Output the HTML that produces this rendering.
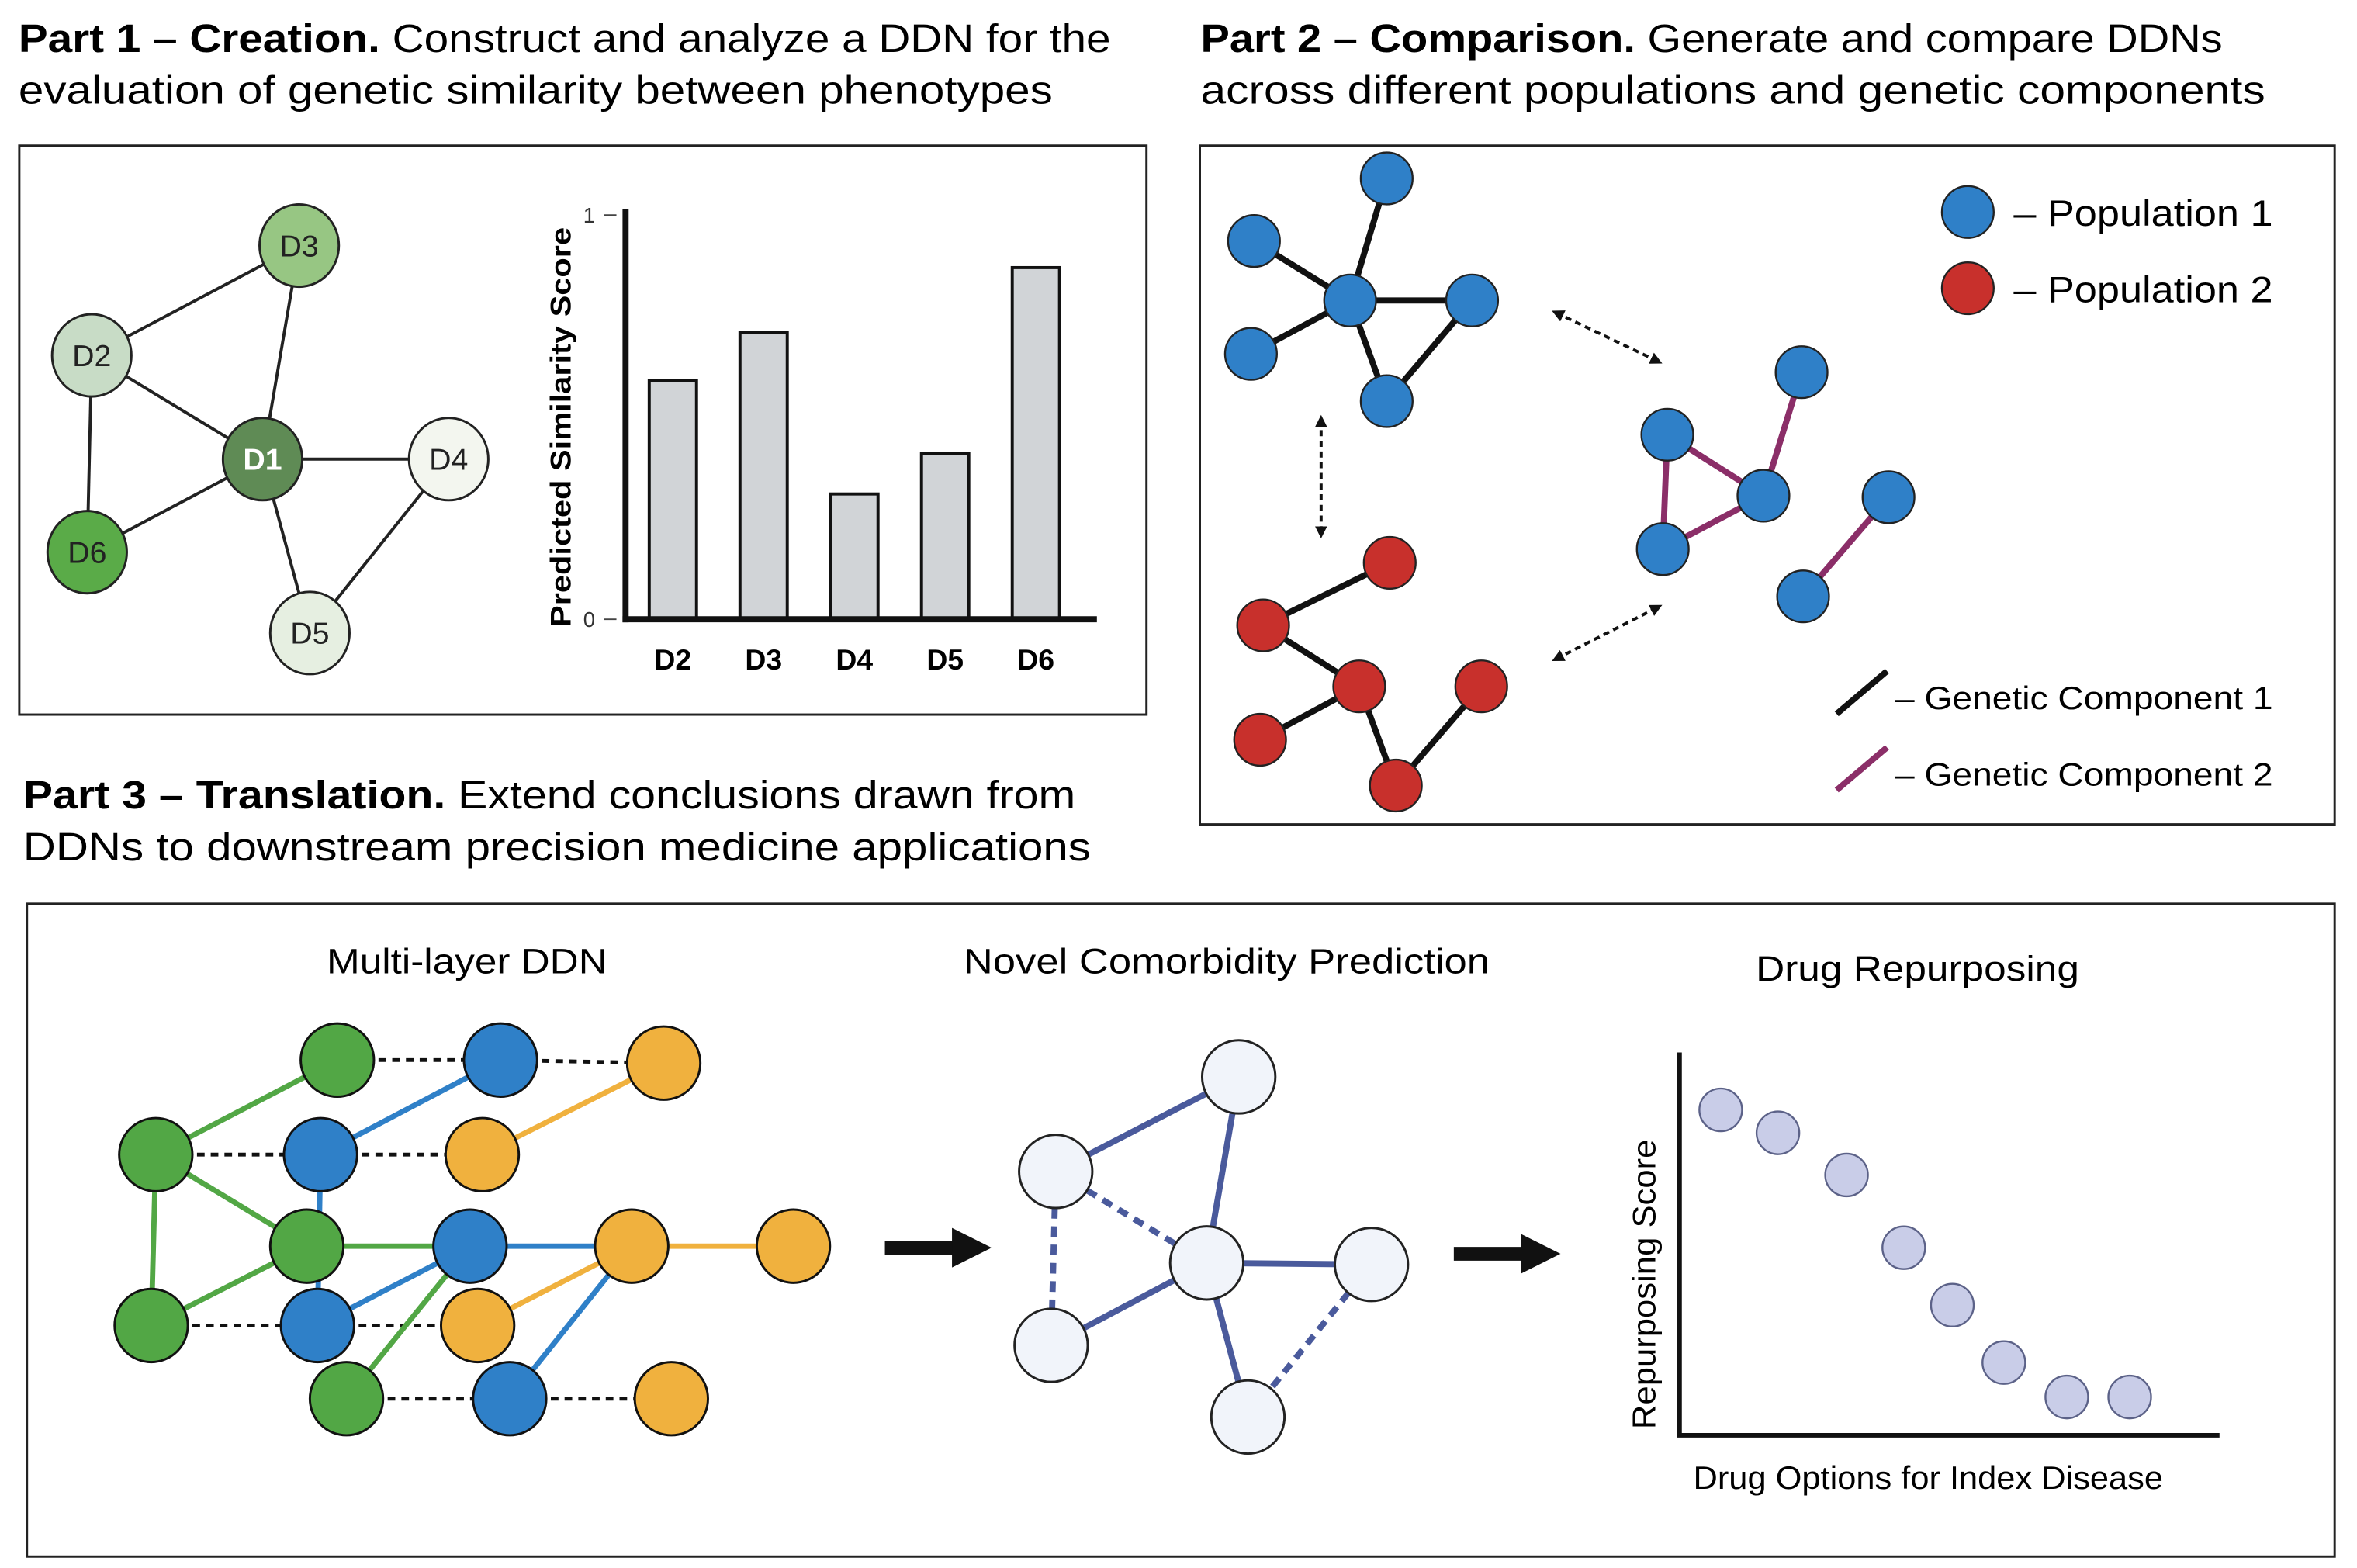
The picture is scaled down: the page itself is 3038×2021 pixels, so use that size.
<!DOCTYPE html>
<html><head><meta charset="utf-8"><style>
html,body{margin:0;padding:0;background:#fff;}
svg{display:block;font-family:"Liberation Sans",sans-serif;}
</style></head><body>
<svg id="fig" width="3038" height="2021" viewBox="0 0 1545 1028" xmlns="http://www.w3.org/2000/svg">
<defs>
<marker id="ah" markerWidth="8" markerHeight="8" refX="5" refY="4" orient="auto-start-reverse" markerUnits="userSpaceOnUse"><path d="M0,0 L8,4 L0,8 z" fill="#111"/></marker>
<marker id="bh" markerWidth="26" markerHeight="26" refX="4" refY="13" orient="auto" markerUnits="userSpaceOnUse"><path d="M0,0 L26,13 L0,26 z" fill="#111"/></marker>
</defs>
<!-- titles -->
<text x="12" y="34" font-size="26" textLength="716" lengthAdjust="spacingAndGlyphs"><tspan font-weight="bold">Part 1 – Creation.</tspan> Construct and analyze a DDN for the</text>
<text x="12" y="68" font-size="26" textLength="678" lengthAdjust="spacingAndGlyphs">evaluation of genetic similarity between phenotypes</text>
<text x="787" y="34" font-size="26" textLength="670" lengthAdjust="spacingAndGlyphs"><tspan font-weight="bold">Part 2 – Comparison.</tspan> Generate and compare DDNs</text>
<text x="787" y="68" font-size="26" textLength="698" lengthAdjust="spacingAndGlyphs">across different populations and genetic components</text>
<text x="15" y="530" font-size="26" textLength="690" lengthAdjust="spacingAndGlyphs"><tspan font-weight="bold">Part 3 – Translation.</tspan> Extend conclusions drawn from</text>
<text x="15" y="564" font-size="26" textLength="700" lengthAdjust="spacingAndGlyphs">DDNs to downstream precision medicine applications</text>
<!-- boxes -->
<rect x="12.5" y="95.5" width="739" height="373" fill="none" stroke="#222" stroke-width="1.5"/>
<rect x="786.5" y="95.5" width="744" height="445" fill="none" stroke="#222" stroke-width="1.5"/>
<rect x="17.5" y="592.5" width="1513" height="428" fill="none" stroke="#222" stroke-width="1.5"/>
<g id="g1"></g><g id="g2"></g><g id="g3"></g>
</svg>
<script>
// ---- Part 1 bar chart data
const barCats=["D2","D3","D4","D5","D6"];
const barVals=[0.59,0.71,0.31,0.41,0.87];
const yTicks=[0,1];
// ---- scatter data (Drug repurposing)
const drugIdx=[1,2,3.2,4.2,5.05,5.95,7.05,8.15];
const repScore=[0.85,0.79,0.68,0.49,0.34,0.19,0.10,0.10];

const NS="http://www.w3.org/2000/svg";
function mk(parent,tag,attrs,txt){const e=document.createElementNS(NS,tag);for(const k in attrs)e.setAttribute(k,attrs[k]);if(txt!==undefined)e.textContent=txt;parent.appendChild(e);return e;}
const g1=document.getElementById('g1'),g2=document.getElementById('g2'),g3=document.getElementById('g3');

// Part1 network
const p1n={D1:[172,301,'#5f8b55','#fff'],D2:[60,233,'#c8dcc6','#222'],D3:[196,161,'#97c683','#222'],D4:[294,301,'#f3f6ef','#222'],D5:[203,415,'#e6efe1','#222'],D6:[57,362,'#5aab48','#222']};
[['D2','D3'],['D3','D1'],['D2','D1'],['D2','D6'],['D6','D1'],['D1','D4'],['D1','D5'],['D4','D5']].forEach(([a,b])=>{
 const l=mk(g1,'line',{x1:p1n[a][0],y1:p1n[a][1],x2:p1n[b][0],y2:p1n[b][1],stroke:'#222','stroke-width':2});
 
 
});
for(const k in p1n){const [x,y,f,t]=p1n[k];
 const c=mk(g1,'ellipse',{cx:x,cy:y,rx:26,ry:27,fill:f,stroke:'#222','stroke-width':1.5});
 
 
 const tx=mk(g1,'text',{x:x,y:y+7,'text-anchor':'middle','font-size':20,fill:t,'font-weight':k==='D1'?'bold':'normal'},k);
 
 
}
// bar chart axes
const y0=406,y1=141;
function ys(v){return y0-(y0-y1)*v;}
function xs(i){return 441+i*59.5;}
const ya=mk(g1,'line',{x1:410,y1:137,x2:410,y2:408,stroke:'#111','stroke-width':4});


yTicks.forEach(t=>{
 const tl=mk(g1,'line',{x1:396,y1:ys(t),x2:404,y2:ys(t),stroke:'#444','stroke-width':1});
 
 
 const tt=mk(g1,'text',{x:390,y:ys(t)+5,'text-anchor':'end','font-size':14,fill:'#333'},String(t));
 
 
});
barCats.forEach((c,i)=>{
 const r=mk(g1,'rect',{x:xs(i)-15.5,y:ys(barVals[i]),width:31,height:y0-ys(barVals[i]),fill:'#d1d4d7',stroke:'#111','stroke-width':2});
 
 
 const t=mk(g1,'text',{x:xs(i),y:439,'text-anchor':'middle','font-size':19,'font-weight':'bold'},c);
 
 
});
const xa=mk(g1,'line',{x1:408,y1:406,x2:719,y2:406,stroke:'#111','stroke-width':4});


const ytl=mk(g1,'text',{x:0,y:0,transform:'translate(374,280) rotate(-90)','text-anchor':'middle','font-size':19,'font-weight':'bold',textLength:262,lengthAdjust:'spacingAndGlyphs'},'Predicted Similarity Score');



// Part2
const BL='#2f80c8',RD='#c8302c',PU='#8b2e68';
function net(nodes,edges,ecol,ncol,name){
 edges.forEach(([a,b])=>{const l=mk(g2,'line',{x1:nodes[a][0],y1:nodes[a][1],x2:nodes[b][0],y2:nodes[b][1],stroke:ecol,'stroke-width':4});
  
  });
 nodes.forEach(n=>{const c=mk(g2,'circle',{cx:n[0],cy:n[1],r:17,fill:ncol,stroke:'#222','stroke-width':1.2});
  
  });
}
net([[822,158],[909,117],[885,197],[965,197],[820,232],[909,263]],[[0,2],[1,2],[2,3],[4,2],[2,5],[5,3]],'#111',BL,'pop1');
net([[911,369],[828,410],[891,450],[971,450],[826,485],[915,515]],[[0,1],[1,2],[2,4],[2,5],[5,3]],'#111',RD,'pop2');
net([[1093,285],[1181,244],[1156,325],[1090,360],[1238,326],[1182,391]],[[0,2],[0,3],[3,2],[2,1],[4,5]],PU,BL,'component2');
[[1020,205,1087,237],[866,275,866,350],[1020,432,1087,398]].forEach(a=>{
 const l=mk(g2,'line',{x1:a[0],y1:a[1],x2:a[2],y2:a[3],stroke:'#111','stroke-width':2,'stroke-dasharray':'4,3','marker-start':'url(#ah)','marker-end':'url(#ah)'});
 
 
});
[[139,BL,'– Population 1'],[189,RD,'– Population 2']].forEach(([y,c,t])=>{
 const ci=mk(g2,'circle',{cx:1290,cy:y,r:17,fill:c,stroke:'#222','stroke-width':1.2});
 
 
 const tx=mk(g2,'text',{x:1320,y:y+9,'font-size':24,textLength:170,lengthAdjust:'spacingAndGlyphs'},t);
 
 
});
[[468,'#111','– Genetic Component 1'],[518,PU,'– Genetic Component 2']].forEach(([y,c,t])=>{
 const l=mk(g2,'line',{x1:1204,y1:y,x2:1237,y2:y-28,stroke:c,'stroke-width':4});
 
 
 const tx=mk(g2,'text',{x:1242,y:y-3,'font-size':21,textLength:248,lengthAdjust:'spacingAndGlyphs'},t);
 
 
});

// Part3 titles
[[306,638,'Multi-layer DDN',184],[804,638,'Novel Comorbidity Prediction',345],[1257,643,'Drug Repurposing',212]].forEach(([x,y,t,w])=>{
 const tx=mk(g3,'text',{x:x,y:y,'text-anchor':'middle','font-size':23,textLength:w,lengthAdjust:'spacingAndGlyphs'},t);
 
 
});
// multi-layer
const G=[[221,695],[102,757],[201,817],[99,869],[227,917]];
const B=[[328,695],[210,757],[308,817],[208,869],[334,917]];
const O=[[435,697],[316,757],[414,817],[313,869],[440,917],[520,817]];
const dash=[[G[0],B[0]],[B[0],O[0]],[G[1],B[1]],[B[1],O[1]],[G[2],B[2]],[B[2],O[2]],[O[2],O[5]],[G[3],B[3]],[B[3],O[3]],[G[4],B[4]],[B[4],O[4]]];
dash.forEach(([a,b])=>{const l=mk(g3,'line',{x1:a[0],y1:a[1],x2:b[0],y2:b[1],stroke:'#111','stroke-width':2.5,'stroke-dasharray':'5,4'});
 
 });
const solid=[['#52a745',G[1],G[0]],['#52a745',G[1],G[3]],['#52a745',G[1],G[2]],['#52a745',G[3],G[2]],['#52a745',G[2],B[2]],['#52a745',G[4],B[2]],
 ['#2f80c8',B[1],B[0]],['#2f80c8',B[1],B[3]],['#2f80c8',B[3],B[2]],['#2f80c8',B[2],O[2]],['#2f80c8',B[4],O[2]],
 ['#f0b13e',O[1],O[0]],['#f0b13e',O[3],O[2]],['#f0b13e',O[2],O[5]]];
solid.forEach(([c,a,b])=>{const l=mk(g3,'line',{x1:a[0],y1:a[1],x2:b[0],y2:b[1],stroke:c,'stroke-width':3.5});
 
 });
[[G,'#52a745'],[B,'#2f80c8'],[O,'#f0b13e']].forEach(([arr,c])=>arr.forEach(p=>{
 const ci=mk(g3,'circle',{cx:p[0],cy:p[1],r:24,fill:c,stroke:'#111','stroke-width':1.5});
 
 }));
// big arrows
[[580,818,628],[953,822,1001]].forEach(([x,y,x2])=>{
 const l=mk(g3,'line',{x1:x,y1:y,x2:x2,y2:y,stroke:'#111','stroke-width':9,'marker-end':'url(#bh)'});
 
 });
// comorbidity
const C=[[812,706],[692,768],[791,828],[899,829],[689,882],[818,929]];
[[1,0,0],[0,2,0],[1,2,1],[1,4,1],[2,4,0],[2,3,0],[2,5,0],[3,5,1]].forEach(([a,b,d])=>{
 const l=mk(g3,'line',{x1:C[a][0],y1:C[a][1],x2:C[b][0],y2:C[b][1],stroke:'#4a5a9c','stroke-width':4,'stroke-dasharray':d?'7,5':'none'});
 
 });
C.forEach(p=>{const ci=mk(g3,'circle',{cx:p[0],cy:p[1],r:24,fill:'#f1f4fa',stroke:'#222','stroke-width':1.5});
 
 });
// scatter
function sx(v){return 1128+(v-1)*37.5;}
function sy(v){return 941-251*v;}
const sax=mk(g3,'polyline',{points:'1101,690 1101,941 1455,941',fill:'none',stroke:'#111','stroke-width':3});


drugIdx.forEach((d,i)=>{const ci=mk(g3,'circle',{cx:sx(d),cy:sy(repScore[i]),r:14,fill:'#c9cde8',stroke:'#5c6288','stroke-width':1.2});
 
 });
const sy1=mk(g3,'text',{x:0,y:0,transform:'translate(1085,842) rotate(-90)','text-anchor':'middle','font-size':21,textLength:190,lengthAdjust:'spacingAndGlyphs'},'Repurposing Score');


const sx1=mk(g3,'text',{x:1264,y:976,'text-anchor':'middle','font-size':21,textLength:308,lengthAdjust:'spacingAndGlyphs'},'Drug Options for Index Disease');


</script>
</body></html>
